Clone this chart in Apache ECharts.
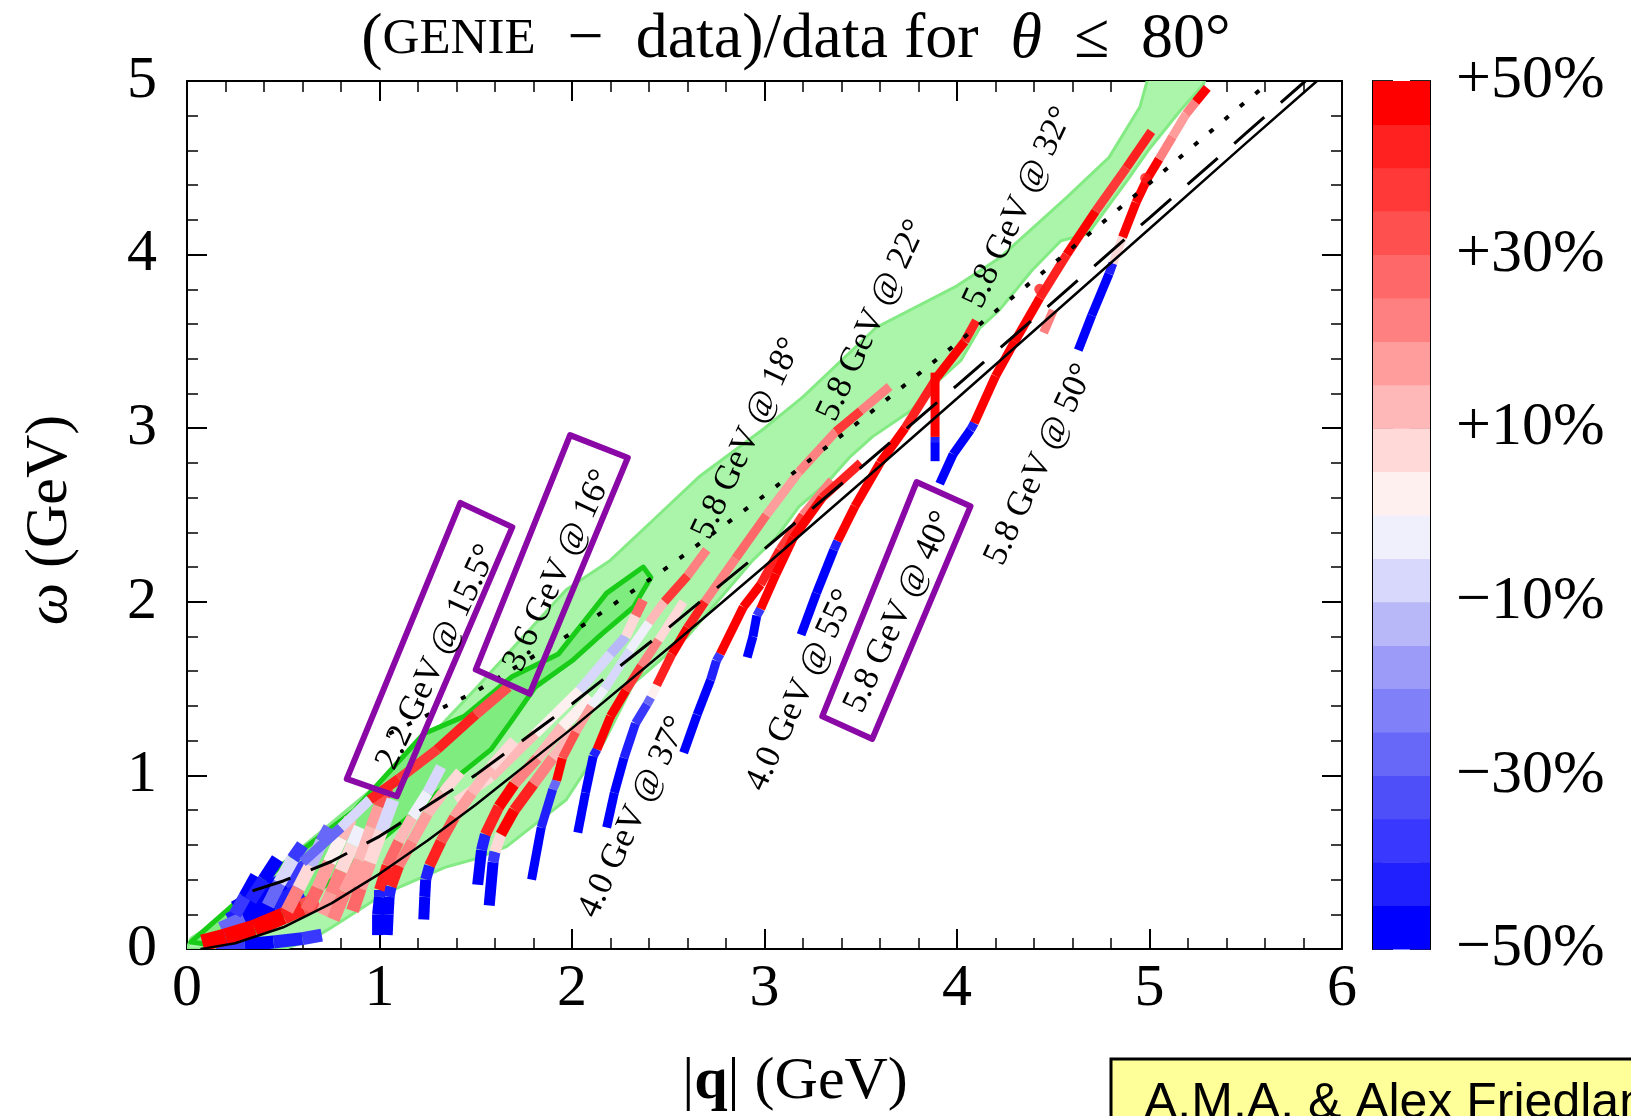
<!DOCTYPE html>
<html><head><meta charset="utf-8">
<script src="https://cdn.jsdelivr.net/npm/echarts/dist/echarts.min.js"></script>
<style>html,body{margin:0;padding:0;background:#fff}#c{width:1631px;height:1116px}</style>
</head><body><div id="c"></div>
<script>
// ---------------- data ----------------
const xTicks = [0, 6, 1];       // min, max, interval  (|q| GeV)
const yTicks = [0, 5, 1];       // min, max, interval  (omega GeV)
const cbTicks = [-50, 50];      // colour scale range (%)
const cbLows = [-50,-45,-40,-35,-30,-25,-20,-15,-10,-5,0,5,10,15,20,25,30,35,40,45];
const bandColors = ['#0000ff','#2020ff','#3838ff','#4f4ffa','#6868f8','#8080f8','#9c9cf8','#b8b8f8','#d8d8fc','#f0f0fc',
                    '#fff0f0','#ffd8d8','#ffb8b8','#ff9c9c','#ff8080','#ff6868','#ff5050','#ff3838','#ff2020','#ff0000'];

// black kinematic curves [q, omega]
const lineQE = [[0.07,0.0],[0.1,0.005],[0.25,0.033],[0.5,0.125],[0.75,0.263],[1,0.433],[1.25,0.625],[1.5,0.831],[2,1.271],[2.5,1.732],[3,2.205],[3.5,2.686],[4,3.171],[4.5,3.659],[5,4.149],[5.5,4.641],[5.87,5.0]];
const lineDelta = [[0.34,0.335],[0.5,0.392],[0.75,0.504],[1,0.649],[1.5,1.003],[2,1.411],[2.5,1.849],[3,2.305],[3.5,2.773],[4,3.247],[4.5,3.728],[5,4.212],[5.5,4.698],[5.81,5.0]];
const lineW2 = [[1.05,1.24],[1.5,1.483],[2,1.821],[2.5,2.202],[3,2.613],[3.5,3.045],[4,3.49],[4.5,3.947],[5,4.411],[5.5,4.881],[5.63,5.0]];

// green kinematic coverage regions [q, omega]
const greenOuter = [[0.0,0.0],[0.02,0.06],[0.1,0.12],[0.35,0.36],[0.69,0.67],[0.97,0.93],[1.21,1.16],[1.5,1.5],[1.97,2.07],[2.2,2.24],[2.44,2.49],[2.66,2.72],[3.0,3.0],[3.2,3.18],[3.58,3.58],[4.0,3.82],[4.22,3.98],[4.39,4.15],[4.57,4.33],[4.79,4.56],[4.95,4.85],[5.0,5.05],[5.3,5.05],[5.28,4.98],[5.16,4.83],[5.0,4.61],[4.88,4.42],[4.68,4.12],[4.54,4.08],[4.39,3.91],[4.22,3.68],[4.12,3.58],[4.02,3.39],[3.91,3.28],[3.76,3.1],[3.56,2.95],[3.44,2.83],[3.32,2.68],[3.18,2.55],[3.06,2.37],[2.94,2.24],[2.6,1.8],[2.32,1.53],[2.17,1.2],[1.97,0.86],[1.66,0.59],[1.5,0.52],[1.34,0.47],[1.11,0.36],[0.97,0.28],[0.73,0.11],[0.64,0.05],[0.5,0.0]];
const greenInner = [[0.02,0.04],[0.35,0.36],[0.87,0.8],[1.23,1.24],[1.44,1.34],[1.69,1.57],[1.93,1.7],[2.18,2.05],[2.37,2.2],[2.41,2.14],[2.32,1.97],[2.16,1.82],[2.0,1.66],[1.81,1.51],[1.69,1.32],[1.58,1.15],[1.3,0.9],[1.0,0.62],[0.7,0.35],[0.4,0.12],[0.15,0.02]];

// measured strips [q, omega, (GENIE-data)/data in %]
const stripLL1 = [[0.08,0.035,45],[0.2,0.07,45],[0.35,0.12,50],[0.5,0.19,40],[0.6,0.24,30],[0.68,0.28,15]];
const stripLL2 = [[0.15,0.015,-40],[0.3,0.025,-50],[0.45,0.04,-45],[0.6,0.06,-40],[0.7,0.08,-30]];
const stripLL3 = [[0.18,0.11,-30],[0.3,0.17,-50],[0.45,0.25,-45],[0.6,0.33,-20]];
const stripLL4 = [[0.25,0.23,-50],[0.38,0.31,-50],[0.5,0.39,-40],[0.62,0.47,-10]];
const stripLL5 = [[0.22,0.16,-45],[0.35,0.24,-50],[0.48,0.32,-45],[0.58,0.4,-30]];
const stripS0 = [[0.25,0.2,-40],[0.3,0.3,-50],[0.36,0.42,-45]];
const stripS1 = [[0.33,0.28,-45],[0.4,0.4,-50],[0.47,0.52,-40]];
const stripS2 = [[0.42,0.25,-30],[0.48,0.38,-10],[0.55,0.52,-40],[0.6,0.6,-45]];
const stripS3 = [[0.52,0.22,20],[0.58,0.35,5],[0.64,0.48,-15],[0.7,0.62,-30],[0.74,0.7,-20]];
const stripS4 = [[0.62,0.22,25],[0.68,0.35,15],[0.74,0.5,0],[0.8,0.64,10],[0.85,0.75,-10]];
const stripS5 = [[0.7,0.2,15],[0.75,0.32,20],[0.8,0.45,5],[0.86,0.6,-5],[0.9,0.7,-15]];
const strip22 = [[0.76,0.17,20],[0.82,0.33,15],[0.9,0.51,10],[0.96,0.7,15],[1.0,0.82,30],[1.04,0.93,45]];
const stripS6 = [[0.86,0.22,25],[0.9,0.35,15],[0.95,0.5,5],[1.01,0.68,-10],[1.07,0.86,-5]];
const strip36 = [[0.6,0.5,-30],[0.8,0.7,-10],[0.95,0.86,40],[1.1,0.98,35],[1.3,1.15,40],[1.5,1.35,30],[1.67,1.51,45]];
const stripX = [[1.4,0.85,5],[1.58,0.99,10],[1.81,1.24,0],[2.04,1.49,-10],[2.2,1.7,-15],[2.28,1.8,5],[2.33,1.92,25],[2.37,2.01,40]];
const stripF1 = [[0.99,0.08,-50],[0.99,0.2,-50],[1.0,0.3,-45],[1.0,0.34,40],[1.04,0.48,25],[1.1,0.62,10],[1.17,0.76,-5],[1.25,0.9,-10],[1.32,1.05,-15]];
const stripF2 = [[1.04,0.08,-50],[1.045,0.2,-50],[1.05,0.3,-45],[1.06,0.36,40],[1.1,0.48,20],[1.17,0.62,15],[1.25,0.78,10],[1.33,0.9,5],[1.42,1.02,0]];
const stripF3 = [[1.23,0.17,-50],[1.235,0.3,-50],[1.24,0.4,-45],[1.26,0.48,40],[1.32,0.62,30],[1.39,0.76,15],[1.48,0.9,10],[1.58,1.05,5],[1.7,1.2,-5]];
const stripF4 = [[1.51,0.37,-50],[1.53,0.57,-45],[1.55,0.66,40],[1.62,0.82,45],[1.7,0.95,20],[1.82,1.1,10],[1.95,1.28,0],[2.1,1.45,-10]];
const stripF5 = [[1.57,0.25,-50],[1.59,0.5,-40],[1.6,0.56,5],[1.63,0.66,45],[1.7,0.8,40],[1.8,0.95,20],[1.9,1.1,10],[2.02,1.27,-5]];
const strip18 = [[1.79,0.4,-50],[1.84,0.7,-45],[1.9,0.92,-30],[1.92,0.97,45],[1.95,1.1,30],[2.02,1.25,15],[2.1,1.4,-5],[2.17,1.5,-10],[2.3,1.72,-5],[2.4,1.88,10],[2.48,2.0,35],[2.6,2.15,20],[2.7,2.3,45]];
const strip20 = [[2.03,0.67,-50],[2.07,0.9,-50],[2.11,1.11,-45],[2.13,1.15,45],[2.2,1.34,45],[2.28,1.49,35],[2.36,1.63,20],[2.45,1.78,5],[2.58,2.0,-5]];
const strip22d = [[2.18,0.7,-50],[2.22,0.9,-50],[2.27,1.1,-45],[2.33,1.3,-40],[2.39,1.41,-30],[2.41,1.45,0],[2.44,1.52,40],[2.52,1.7,45],[2.6,1.85,40],[2.69,2.0,20],[2.85,2.25,25],[3.01,2.5,15],[3.18,2.75,20],[3.37,2.98,35],[3.5,3.1,20],[3.65,3.24,30]];
const strip26 = [[2.58,1.13,-50],[2.65,1.35,-50],[2.72,1.55,-45],[2.75,1.66,-40],[2.77,1.7,45],[2.89,1.97,45],[2.98,2.1,40],[3.08,2.3,35],[3.2,2.5,20],[3.35,2.7,15]];
const strip29 = [[2.91,1.68,-50],[2.94,1.8,-50],[2.96,1.92,-40],[2.98,1.96,45],[3.06,2.16,45],[3.15,2.37,45],[3.3,2.6,40],[3.5,2.8,35]];
const strip32 = [[3.19,1.81,-50],[3.27,2.05,-50],[3.36,2.3,-45],[3.38,2.35,45],[3.47,2.55,45],[3.6,2.8,45],[3.73,3.0,40],[3.9,3.3,45],[4.04,3.5,40],[4.1,3.62,35]];
const stripV = [[3.886,2.81,-50],[3.886,2.92,-45],[3.886,2.95,45],[3.886,3.32,45]];
const strip40 = [[3.91,2.68,-50],[3.98,2.85,-50],[4.07,2.99,-45],[4.09,3.03,45],[4.2,3.3,45],[4.3,3.5,45],[4.43,3.75,40],[4.57,4.0,45],[4.72,4.25,35],[4.88,4.5,40],[5.01,4.71,40]];
const strip50 = [[4.63,3.45,-50],[4.7,3.65,-50],[4.79,3.89,-45],[4.81,3.95,5],[4.86,4.1,45],[4.93,4.3,45],[4.99,4.44,45],[5.05,4.55,20],[5.12,4.68,15],[5.19,4.81,20],[5.24,4.88,45],[5.3,4.96,50]];
const stripP = [[4.45,3.55,20],[4.5,3.68,15]];
const redDots = [[4.43,3.8],[4.98,4.44]];

// annotations
const stripLabels = [
  [1.30,1.68,'2.2 GeV @ 15.5°'],[1.93,2.18,'3.6 GeV @ 16°'],[2.91,2.94,'5.8 GeV @ 18°'],
  [3.56,3.62,'5.8 GeV @ 22°'],[4.32,4.27,'5.8 GeV @ 32°'],[3.70,1.94,'5.8 GeV @ 40°'],
  [4.43,2.79,'5.8 GeV @ 50°'],[3.19,1.49,'4.0 GeV @ 55°'],[2.32,0.76,'4.0 GeV @ 37°']];
const box22 = [[0.83,0.98],[1.42,2.57],[1.69,2.43],[1.09,0.88]];
const box36 = [[1.50,1.61],[1.99,2.96],[2.29,2.83],[1.78,1.47]];
const box58 = [[3.30,1.34],[3.79,2.69],[4.07,2.55],[3.56,1.21]];

// ---------------- chart ----------------
const SERIF = 'Liberation Serif';
function colorFor(p){ let k = Math.floor((p + 50) / 5); if (k < 0) k = 0; if (k > 19) k = 19; return bandColors[k]; }

function polySeries(pts, fill, stroke, lw, z){
  return {type:'custom', coordinateSystem:'cartesian2d', xAxisIndex:0, yAxisIndex:0, z:z, silent:true, clip:true,
    data: pts, encode:{x:0, y:1},
    renderItem: function(params, api){
      if (params.dataIndex !== 0) return null;
      return {type:'polygon', shape:{points: pts.map(p => api.coord(p))},
              style:{fill: fill, stroke: stroke, lineWidth: lw, lineJoin:'round'}};
    }};
}
function stripSeries(pts, w){
  return {type:'custom', coordinateSystem:'cartesian2d', xAxisIndex:0, yAxisIndex:0, z:4, silent:true, clip:true,
    data: pts, encode:{x:0, y:1},
    renderItem: function(params, api){
      const i = params.dataIndex;
      if (i >= pts.length - 1) return null;
      const a = api.coord([pts[i][0], pts[i][1]]), b = api.coord([pts[i+1][0], pts[i+1][1]]);
      return {type:'line', shape:{x1:a[0], y1:a[1], x2:b[0], y2:b[1]},
              style:{stroke: colorFor(pts[i][2]), lineWidth: w, lineCap:'butt'}};
    }};
}
function blackLine(pts, dash, w){
  return {type:'line', xAxisIndex:0, yAxisIndex:0, data: pts, showSymbol:false, symbol:'none', z:6, silent:true,
    lineStyle:{color:'#000', width:w, type: dash, cap:'butt'}};
}

const axisCommon = {
  axisLine:{show:true, onZero:false, lineStyle:{color:'#000', width:2}},
  axisTick:{show:true, inside:true, length:20, lineStyle:{color:'#000', width:2}},
  minorTick:{show:true, splitNumber:5, length:11, lineStyle:{color:'#000', width:1.5}},
  splitLine:{show:false}, minorSplitLine:{show:false}
};
const labelStyle = {fontSize:60, fontFamily:SERIF, color:'#000'};

const series = [
  polySeries(greenOuter, '#aaf5aa', '#84ea84', 3, 1),
  polySeries(greenInner, '#7fec7f', '#18cc18', 5, 2),
];
[stripLL2].forEach(s => series.push(stripSeries(s, 13)));
[stripLL5, stripLL3, stripLL4, stripLL1].forEach(s => series.push(stripSeries(s, 17)));
[stripS0, stripS1, stripS2, stripS3, stripS4, stripS5, strip22, stripS6].forEach(s => series.push(stripSeries(s, 13)));
[strip36, stripX].forEach(s => series.push(stripSeries(s, 10)));
[stripF1, stripF2, stripF3, stripF4, stripF5].forEach(s => series.push(stripSeries(s, 11)));
[strip18, strip20, strip22d, strip26, strip29, strip32, stripV, strip40, strip50, stripP].forEach(s => series.push(stripSeries(s, 9)));
series.push({type:'scatter', xAxisIndex:0, yAxisIndex:0, data: redDots, symbolSize:11, itemStyle:{color:'#ff1a1a'}, z:5, silent:true});
series.push(blackLine(lineQE, 'solid', 2.5));
series.push(blackLine(lineDelta, [40, 22], 3));
series.push(blackLine(lineW2, [5, 15], 4));
[box22, box36, box58].forEach(b => series.push(polySeries(b, 'none', '#8a08a6', 6, 8)));
series.push({type:'custom', coordinateSystem:'cartesian2d', xAxisIndex:0, yAxisIndex:0, z:9, silent:true, clip:false,
  data: stripLabels.map(l => [l[0], l[1]]), encode:{x:0, y:1},
  renderItem: function(params, api){
    const l = stripLabels[params.dataIndex];
    const c = api.coord([l[0], l[1]]);
    return {type:'text', x:c[0], y:c[1], rotation: 65 * Math.PI / 180,
      style:{text:l[2], x:0, y:0, fontSize:35, fontFamily:SERIF, fill:'#000', align:'center', verticalAlign:'middle'}};
  }});
// colour bar bands
series.push({type:'custom', coordinateSystem:'cartesian2d', xAxisIndex:2, yAxisIndex:2, z:2, silent:true,
  data: cbLows.map(v => [0, v]), encode:{x:0, y:1},
  renderItem: function(params, api){
    const lo = cbLows[params.dataIndex];
    const p0 = api.coord([0, lo + 5]), p1 = api.coord([1, lo]);
    return {type:'rect', shape:{x:p0[0], y:p0[1], width:p1[0]-p0[0], height:p1[1]-p0[1] + 0.5},
            style:{fill: bandColors[params.dataIndex]}};
  }});

const cbAxis = (pos, interval, len, showLabel) => ({
  gridIndex:1, type:'value', position:pos, min:cbTicks[0], max:cbTicks[1], interval:interval,
  axisLine:{show:true, lineStyle:{color:'#000', width:2}},
  axisTick:{show:true, inside:true, length:len, lineStyle:{color:'#222', width:2}},
  splitLine:{show:false},
  axisLabel:{show:showLabel, margin:26, fontSize:62, fontFamily:SERIF, color:'#000',
    formatter: v => (v > 0 ? '+' : (v < 0 ? '\u2212' : '')) + Math.abs(v) + '%'}
});

const option = {
  backgroundColor:'#fff',
  animation:false,
  grid:[
    {left:187, top:81, width:1155, height:868, containLabel:false},
    {left:1373, top:81, width:57, height:868, containLabel:false}
  ],
  xAxis:[
    Object.assign({gridIndex:0, type:'value', position:'bottom', min:xTicks[0], max:xTicks[1], interval:xTicks[2],
      axisLabel:Object.assign({margin:10}, labelStyle)}, axisCommon),
    Object.assign({gridIndex:0, type:'value', position:'top', min:xTicks[0], max:xTicks[1], interval:xTicks[2],
      axisLabel:{show:false}}, axisCommon),
    {gridIndex:1, type:'value', position:'bottom', min:0, max:1, axisLine:{show:true, lineStyle:{color:'#000', width:2}},
      axisTick:{show:false}, axisLabel:{show:false}, splitLine:{show:false}},
    {gridIndex:1, type:'value', position:'top', min:0, max:1, axisLine:{show:true, lineStyle:{color:'#000', width:2}},
      axisTick:{show:false}, axisLabel:{show:false}, splitLine:{show:false}}
  ],
  yAxis:[
    Object.assign({gridIndex:0, type:'value', position:'left', min:yTicks[0], max:yTicks[1], interval:yTicks[2],
      axisLabel:Object.assign({margin:30}, labelStyle)}, axisCommon),
    Object.assign({gridIndex:0, type:'value', position:'right', min:yTicks[0], max:yTicks[1], interval:yTicks[2],
      axisLabel:{show:false}}, axisCommon),
    cbAxis('left', 20, 20, false),
    cbAxis('left', 10, 10, false),
    cbAxis('right', 20, 20, true),
    cbAxis('right', 10, 10, false)
  ],
  graphic:[
    {type:'text', x:796, y:40, z:20, style:{
      text:'{n|(}{s|GENIE}{n|\u2002\u2212\u2002data)/data for\u2002}{i|\u03b8}{n|\u2002\u2264\u200280°}',
      align:'center', verticalAlign:'middle',
      rich:{n:{fontSize:64, fontFamily:SERIF, fill:'#000'}, s:{fontSize:51, fontFamily:SERIF, fill:'#000'},
            i:{fontSize:64, fontFamily:SERIF, fontStyle:'italic', fill:'#000'}}}},
    {type:'text', x:50, y:520, rotation:Math.PI/2, z:20, style:{
      text:'{i|\u03c9}{n| (GeV)}', align:'center', verticalAlign:'middle',
      rich:{n:{fontSize:60, fontFamily:SERIF, fill:'#000'}, i:{fontSize:60, fontFamily:SERIF, fontStyle:'italic', fill:'#000'}}}},
    {type:'text', x:795, y:1082, z:20, style:{
      text:'{n||}{b|q}{n|| (GeV)}', align:'center', verticalAlign:'middle',
      rich:{n:{fontSize:60, fontFamily:SERIF, fill:'#000'}, b:{fontSize:60, fontFamily:SERIF, fontWeight:'bold', fill:'#000'}}}},
    {type:'rect', z:20, shape:{x:1111, y:1059, width:560, height:120}, style:{fill:'#ffff99', stroke:'#000', lineWidth:3}},
    {type:'text', x:1144, y:1079, z:21, style:{text:'A.M.A. & Alex Friedland', fontSize:50,
      fontFamily:'Liberation Sans', fill:'#000', align:'left', verticalAlign:'top'}}
  ],
  series: series
};

const chart = echarts.init(document.getElementById('c'), null, {renderer:'canvas'});
chart.setOption(option);
</script>
</body></html>
